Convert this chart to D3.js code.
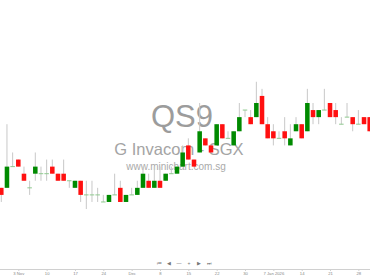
<!DOCTYPE html>
<head>
  <meta charset="utf-8">
  <title>QS9 minichart</title>
  <script src="https://cdn.jsdelivr.net/npm/d3@7/dist/d3.min.js"></script>
  <style>
  body {
    margin: 0;
    background: #fff;
    font-family: "Liberation Sans", Arial, sans-serif;
  }
  .wick { stroke: #c8c8c8; stroke-width: 1px; }
  .up { fill: #008a00; }
  .down { fill: #ff1010; }
  .doji { stroke: #8fc98f; stroke-width: 1px; }
  .mark { text-anchor: middle; }
  .axis path, .axis line { stroke: #d0d0d0; }
  .axis text { fill: #888; font-size: 4.2px; }
  .nav { fill: #777; font-size: 5px; text-anchor: middle; }
  </style>
</head>
<body>
<script>
// Trading days shown (29 Oct 2025 .. 30 Jan 2026)
var days = ["29 Oct","30 Oct","31 Oct",
  "3 Nov","4 Nov","5 Nov","6 Nov","7 Nov",
  "10 Nov","11 Nov","12 Nov","13 Nov","14 Nov",
  "17 Nov","18 Nov","19 Nov","20 Nov","21 Nov",
  "24 Nov","25 Nov","26 Nov","27 Nov","28 Nov",
  "1 Dec","2 Dec","3 Dec","4 Dec","5 Dec",
  "8 Dec","9 Dec","10 Dec","11 Dec","12 Dec",
  "15 Dec","16 Dec","17 Dec","18 Dec","19 Dec",
  "22 Dec","23 Dec","24 Dec","26 Dec",
  "29 Dec","30 Dec","31 Dec","2 Jan",
  "5 Jan","6 Jan","7 Jan","8 Jan","9 Jan",
  "12 Jan","13 Jan","14 Jan","15 Jan","16 Jan",
  "19 Jan","20 Jan","21 Jan","22 Jan","23 Jan",
  "26 Jan","27 Jan","28 Jan","29 Jan","30 Jan"];

var open = [0.052,0.052,0.055,0.056,0.054,0.052,0.054,0.054,0.054,0.055,
  0.054,0.054,0.053,0.052,0.053,0.051,0.051,0.051,0.050,0.050,
  0.051,0.052,0.050,0.051,0.051,0.052,0.053,0.052,0.053,0.053,
  0.054,0.054,0.055,0.058,0.056,0.057,0.059,0.058,0.058,0.061,
  0.059,0.058,0.060,0.063,0.062,0.062,0.065,0.061,0.060,0.059,
  0.060,0.058,0.060,0.061,0.060,0.063,0.062,0.063,0.064,0.063,
  0.061,0.062,0.062,0.061,0.062,0.062];

var high = [0.052,0.061,0.057,0.056,0.055,0.053,0.057,0.055,0.056,0.056,
  0.054,0.056,0.053,0.053,0.053,0.053,0.053,0.052,0.051,0.051,
  0.054,0.053,0.051,0.052,0.053,0.055,0.054,0.055,0.055,0.054,
  0.055,0.055,0.058,0.059,0.056,0.064,0.059,0.058,0.061,0.061,
  0.060,0.060,0.064,0.063,0.063,0.067,0.066,0.062,0.061,0.060,
  0.062,0.061,0.062,0.061,0.066,0.064,0.063,0.066,0.064,0.064,
  0.062,0.064,0.062,0.063,0.062,0.062];

var low = [0.050,0.052,0.055,0.055,0.053,0.051,0.053,0.053,0.053,0.054,
  0.053,0.053,0.052,0.052,0.050,0.049,0.050,0.050,0.050,0.050,
  0.051,0.050,0.050,0.051,0.051,0.052,0.052,0.052,0.052,0.053,
  0.054,0.054,0.055,0.056,0.055,0.057,0.058,0.057,0.058,0.059,
  0.059,0.058,0.060,0.062,0.061,0.062,0.061,0.059,0.058,0.059,
  0.058,0.058,0.060,0.059,0.060,0.061,0.061,0.063,0.062,0.061,
  0.061,0.062,0.060,0.061,0.061,0.060];

var close = [0.051,0.055,0.055,0.055,0.053,0.052,0.055,0.054,0.054,0.054,
  0.053,0.053,0.053,0.053,0.051,0.051,0.051,0.051,0.050,0.051,
  0.051,0.050,0.051,0.051,0.052,0.054,0.052,0.053,0.052,0.054,
  0.054,0.055,0.057,0.056,0.055,0.060,0.058,0.057,0.061,0.059,
  0.059,0.060,0.062,0.063,0.061,0.064,0.061,0.059,0.059,0.059,
  0.059,0.059,0.061,0.059,0.064,0.062,0.063,0.063,0.062,0.062,
  0.061,0.062,0.061,0.061,0.061,0.060];

// x axis ticks (every 5 trading days) and their labels
var tickDays = ["3 Nov","10 Nov","17 Nov","24 Nov","1 Dec","8 Dec","15 Dec",
  "22 Dec","30 Dec","7 Jan","14 Jan","21 Jan","28 Jan"];
var tickLabels = ["3 Nov","10","17","24","Dec","8","15","22","30","7 Jan 2026","14","21","28"];

var navButtons = ["\u23EE","\u25C0","\u2014","+","\u25B6","\u23ED"];

var width = 370, height = 278;
var axisY = 269;

// build rows for the candles
var candles = days.map(function(d, i) {
  return { day: d, open: open[i], high: high[i], low: low[i], close: close[i] };
});

var svg = d3.select("body").append("svg")
    .attr("width", width)
    .attr("height", height);

var x = d3.scalePoint()
    .domain(days)
    .range([1.3, 369.7]);

var y = d3.scaleLinear()
    .domain([0.0425, 0.0710])
    .range([255, 53.5]);

var bodyW = x.step() * 0.8;

// watermark behind the candles
var mark = svg.append("g").attr("class", "mark");
mark.append("text")
    .attr("x", 182).attr("y", 127)
    .style("font-size", "31px").style("fill", "#9c9c9c")
    .text("QS9");
mark.append("text")
    .attr("x", 179).attr("y", 155)
    .style("font-size", "16.5px").style("fill", "#a4a4a4")
    .text("G Invacom - SGX");
mark.append("text")
    .attr("x", 176).attr("y", 170)
    .style("font-size", "10px").style("fill", "#aaa")
    .text("www.minichart.com.sg");

// candles
var g = svg.selectAll("g.candle")
    .data(candles)
    .enter().append("g")
      .attr("class", "candle");

g.append("line")
    .attr("class", "wick")
    .attr("x1", function(d) { return x(d.day); })
    .attr("x2", function(d) { return x(d.day); })
    .attr("y1", function(d) { return y(d.high); })
    .attr("y2", function(d) { return y(d.low); });

g.filter(function(d) { return d.open !== d.close; })
  .append("rect")
    .attr("class", function(d) { return d.close > d.open ? "up" : "down"; })
    .attr("x", function(d) { return x(d.day) - bodyW / 2; })
    .attr("width", bodyW)
    .attr("y", function(d) { return y(Math.max(d.open, d.close)); })
    .attr("height", function(d) { return Math.abs(y(d.open) - y(d.close)); });

g.filter(function(d) { return d.open === d.close; })
  .append("line")
    .attr("class", "doji")
    .attr("x1", function(d) { return x(d.day) - bodyW / 2; })
    .attr("x2", function(d) { return x(d.day) + bodyW / 2; })
    .attr("y1", function(d) { return y(d.close); })
    .attr("y2", function(d) { return y(d.close); });

// x axis
var axis = d3.axisBottom(x)
    .tickValues(tickDays)
    .tickFormat(function(d, i) { return tickLabels[i]; })
    .tickSize(2)
    .tickPadding(1);

svg.append("g")
    .attr("class", "axis")
    .attr("transform", "translate(0," + axisY + ")")
    .call(axis)
    .call(function(s) { s.select(".domain").attr("d", "M0,0.5H" + width); });

// navigation buttons
svg.selectAll("text.nav")
    .data(navButtons)
    .enter().append("text")
      .attr("class", "nav")
      .attr("x", function(d, i) { return 159 + i * 10; })
      .attr("y", 265)
      .text(function(d) { return d; });
</script>
</body>
</html>
